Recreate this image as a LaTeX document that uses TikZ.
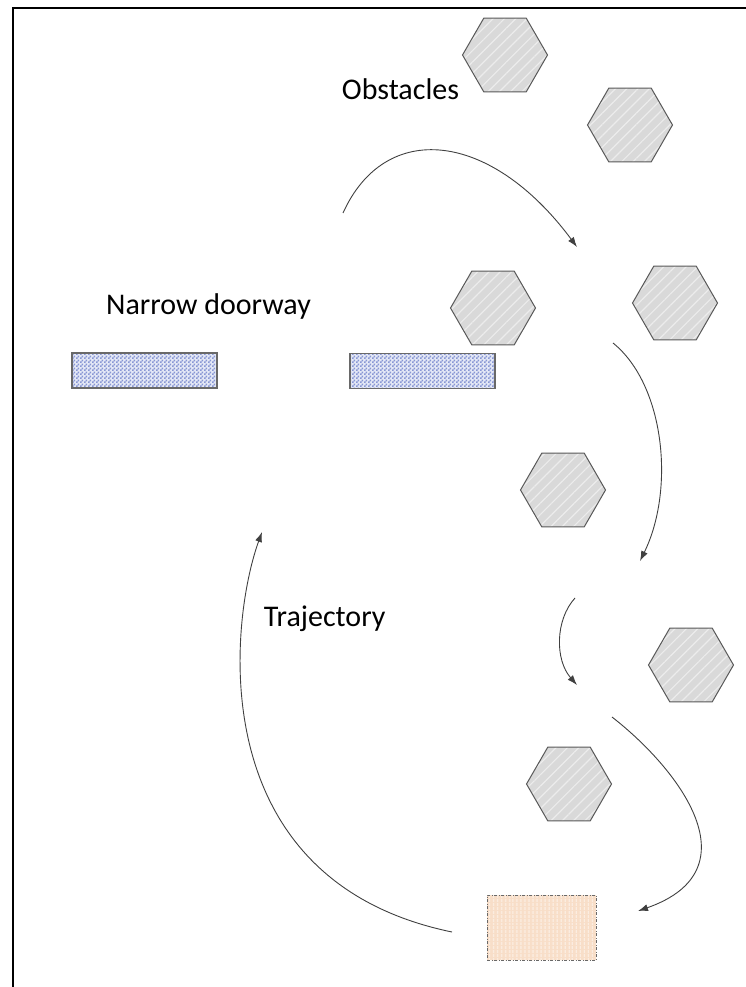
\documentclass[tikz,border=0pt]{standalone}
\usepackage{fontspec}
\setmainfont{Carlito}
\usetikzlibrary{shapes.geometric,arrows.meta,patterns,patterns.meta}
\pgfdeclarepatternformonly{checkerboardA}{\pgfqpoint{0pt}{0pt}}{\pgfqpoint{4pt}{4pt}}{\pgfqpoint{4pt}{4pt}}{%
 \pgfpathrectangle{\pgfqpoint{0pt}{0pt}}{\pgfqpoint{2pt}{2pt}}%
 \pgfpathrectangle{\pgfqpoint{2pt}{2pt}}{\pgfqpoint{2pt}{2pt}}%
 \pgfusepath{fill}}
\definecolor{hexfill}{RGB}{217,217,217}
\definecolor{hexstripe}{RGB}{236,236,236}
\definecolor{hexline}{RGB}{89,89,89}
\definecolor{doorblue}{RGB}{135,150,212}
\definecolor{doorbg}{RGB}{228,232,246}
\definecolor{boxline}{RGB}{105,105,105}
\definecolor{peach}{RGB}{248,222,200}
\definecolor{peachline}{RGB}{252,238,226}
\definecolor{arrowcol}{RGB}{64,64,64}
\begin{document}
\begin{tikzpicture}[x=1pt,y=-1pt,
  hexobs/.style={regular polygon, regular polygon sides=6, minimum size=85pt, inner sep=0pt, outer sep=0pt,
    preaction={fill=hexfill},
    pattern={Lines[angle=45,distance=8pt,line width=1.2pt]}, pattern color=hexstripe,
    draw=hexline, line width=1pt},
  doorbox/.style={rectangle, minimum width=145pt, minimum height=35pt, inner sep=0pt, outer sep=0pt,
    preaction={fill=doorbg}, pattern=checkerboardA, pattern color=doorblue,
    draw=boxline, line width=1.2pt},
  robotbox/.style={rectangle, minimum width=109pt, minimum height=65pt, inner sep=0pt, outer sep=0pt,
    preaction={fill=peach},
    pattern={Lines[angle=90,distance=4pt,line width=1pt]}, pattern color=peachline,
    draw=boxline, line width=1pt, dash pattern=on 3pt off 1.5pt on 1pt off 1.5pt},
  traj/.style={draw=arrowcol, line width=0.9pt, -{Latex[length=10pt,width=7pt]}},
  lbl/.style={font=\fontsize{30}{34}\selectfont, anchor=base, inner sep=0pt}
]
\useasboundingbox (0,0) rectangle (746,987);
\draw[line width=2pt] (13,987) -- (13,8.5) -- (746,8.5);

% obstacles
\node[hexobs] (h1) at (505,55) {};
\node[hexobs] (h2) at (630,125) {};
\node[hexobs] (h3) at (675,303) {};
\node[hexobs] (h4) at (493,308) {};
\node[hexobs] (h5) at (563,490) {};
\node[hexobs] (h6) at (691,665) {};
\node[hexobs] (h7) at (569,784) {};

% doorway walls
\node[doorbox] (d1) at (144.5,370.5) {};
\node[doorbox] (d2) at (422.5,371) {};

% robot
\node[robotbox] (r) at (541.5,927.5) {};

% labels
\node[lbl] (tobs) at (400.5,99.3) {Obstacles};
\node[lbl] (tdoor) at (208.5,314.3) {Narrow doorway};
\node[lbl] (ttraj) at (324.7,626.7) {Trajectory};

% trajectory
\coordinate (a1s) at (343,213);
\coordinate (a1e) at (577,247);
\coordinate (a2s) at (613,343);
\coordinate (a2e) at (640,561);
\coordinate (a3s) at (575,598);
\coordinate (a3e) at (577,685);
\coordinate (a4s) at (612,717);
\coordinate (a4e) at (638,911);
\coordinate (a5s) at (452,932);
\coordinate (a5e) at (262,532);
\draw[traj] (a1s) .. controls (385,120) and (490,130) .. (a1e);
\draw[traj] (a2s) .. controls (665,385) and (675,490) .. (a2e);
\draw[traj] (a3s) .. controls (555,620) and (555,660) .. (a3e);
\draw[traj] (a4s) .. controls (680,770) and (755,870) .. (a4e);
\draw[traj] (a5s) .. controls (200,880) and (230,620) .. (a5e);
\end{tikzpicture}
\end{document}
